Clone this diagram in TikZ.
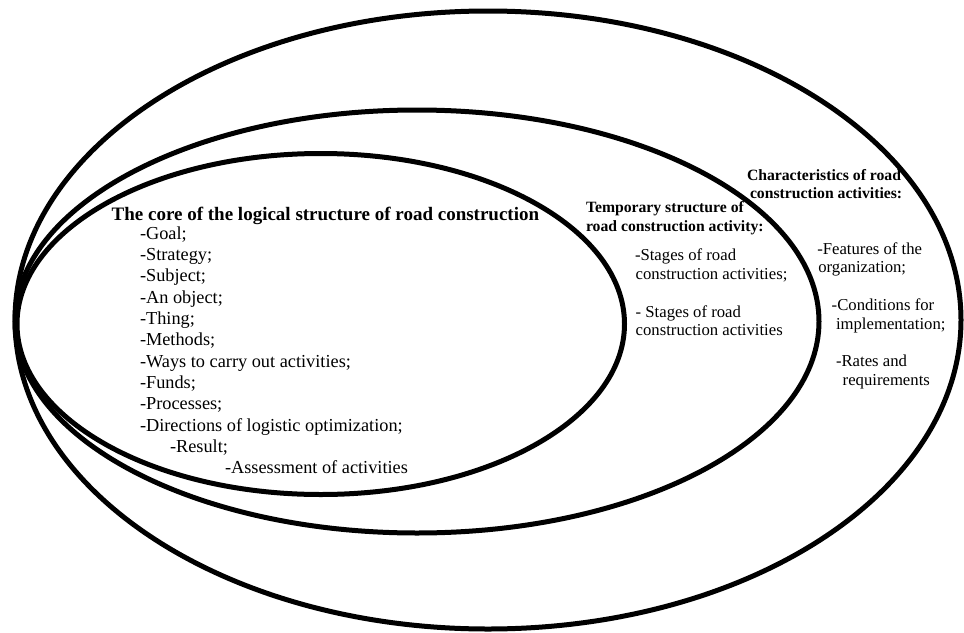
\documentclass[tikz,border=0pt]{standalone}
\usepackage{fontspec}
\setmainfont{Liberation Serif}
\begin{document}
\begin{tikzpicture}[x=1pt,y=-1pt,
  ring/.style={draw=black,line width=5pt},
  txt/.style={anchor=base west,inner sep=0pt,outer sep=0pt,text=black},
  ttl/.style={txt,font=\fontsize{19pt}{21pt}\selectfont\bfseries},
  itm/.style={txt,font=\fontsize{18.3pt}{21pt}\selectfont},
  hd/.style={txt,font=\fontsize{15.7pt}{18pt}\selectfont\bfseries},
  sm/.style={txt,font=\fontsize{16.7pt}{18pt}\selectfont}]
\useasboundingbox (0,0) rectangle (964,632);
\fill[white] (0,0) rectangle (964,632);
% ellipses
\draw[ring] (488,320) ellipse [x radius=473, y radius=309];
\draw[ring] (417,321.5) ellipse [x radius=402, y radius=211.5];
\draw[ring] (320.75,324) ellipse [x radius=303.75, y radius=170.5];
% core
\node[ttl] (core) at (111.7,220.7) {The core of the logical structure of road construction};
\node[itm] (i1) at (140,239.3) {-Goal;};
\node[itm] (i2) at (140,260.6) {-Strategy;};
\node[itm] (i3) at (140,281.9) {-Subject;};
\node[itm] (i4) at (140,303.2) {-An object;};
\node[itm] (i5) at (140,324.5) {-Thing;};
\node[itm] (i6) at (140,345.8) {-Methods;};
\node[itm] (i7) at (140,367.1) {-Ways to carry out activities;};
\node[itm] (i8) at (140,388.4) {-Funds;};
\node[itm] (i9) at (140,409.7) {-Processes;};
\node[itm] (i10) at (140,431.0) {-Directions of logistic optimization;};
\node[itm] (i11) at (170,452.3) {-Result;};
\node[itm] (i12) at (225,473.6) {-Assessment of activities};
% temporary
\node[hd] (t1) at (586,212.7) {Temporary structure of};
\node[hd] (t2) at (586,231.7) {road construction activity:};
\node[sm] (t3) at (635,260.7) {-Stages of road};
\node[sm] (t4) at (635.7,279.3) {construction activities;};
\node[sm] (t5) at (635.7,317.3) {- Stages of road};
\node[sm] (t6) at (635.7,335.7) {construction activities};
% characteristics
\node[hd] (c1) at (747,180) {Characteristics of road};
\node[hd] (c2) at (750,198.3) {construction activities:};
\node[sm] (c3) at (817.3,254.3) {-Features of the};
\node[sm] (c4) at (818.3,272.7) {organization;};
\node[sm] (c5) at (831.7,310.7) {-Conditions for};
\node[sm] (c6) at (836,329.3) {implementation;};
\node[sm] (c7) at (836,366.7) {-Rates and};
\node[sm] (c8) at (842.7,385) {requirements};
\end{tikzpicture}
\end{document}
